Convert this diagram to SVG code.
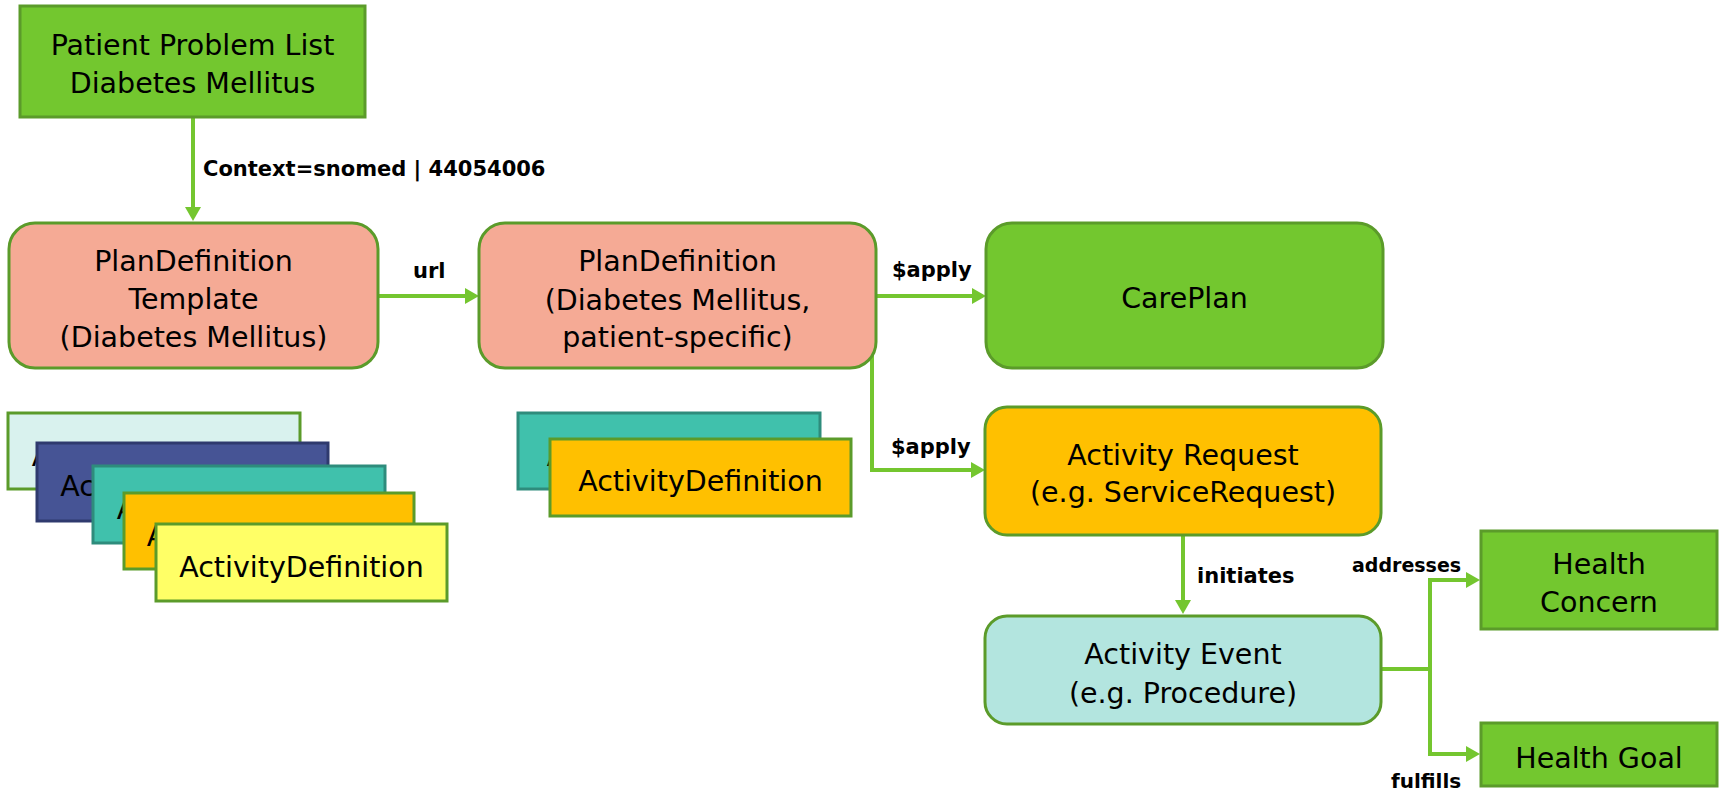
<svg xmlns="http://www.w3.org/2000/svg" width="1721" height="792" viewBox="0 0 1721 792">
<defs>
<marker id="ah" viewBox="0 0 14 16" refX="4" refY="8" markerWidth="14" markerHeight="16" markerUnits="userSpaceOnUse" orient="auto">
<path d="M0,0 L14,8 L0,16 Z" fill="#74C62F"/>
</marker>
</defs>
<style>
.t{font-family:"DejaVu Sans","Liberation Sans",sans-serif;font-size:28.5px;fill:#000;text-anchor:middle}
.l{font-family:"DejaVu Sans","Liberation Sans",sans-serif;font-size:21px;font-weight:bold;fill:#000}
.c{fill:none;stroke:#74C62F;stroke-width:4}
.g{fill:#73C72F;stroke:#5B9B2A;stroke-width:3}
.s{fill:#F5AA95;stroke:#5B9B2A;stroke-width:3}
</style>
<g id="connectors">
<path class="c" d="M193,117 V211" marker-end="url(#ah)"/>
<path class="c" d="M378,296 H469" marker-end="url(#ah)"/>
<path class="c" d="M876,296 H976" marker-end="url(#ah)"/>
<path class="c" d="M872,340 V470 H975" marker-end="url(#ah)"/>
<path class="c" d="M1183,535 V604" marker-end="url(#ah)"/>
<path class="c" d="M1381,669 H1430 V580 H1470" marker-end="url(#ah)"/>
<path class="c" d="M1430,669 V754 H1470" marker-end="url(#ah)"/>
</g>
<g id="labels">
<text class="l" x="203" y="176">Context=snomed | 44054006</text>
<text class="l" x="413" y="278">url</text>
<text class="l" x="892" y="277">$apply</text>
<text class="l" x="891" y="454">$apply</text>
<text class="l" x="1197" y="583">initiates</text>
<text class="l" x="1352" y="572" style="font-size:19px">addresses</text>
<text class="l" x="1391" y="788" style="font-size:20px">fulfills</text>
</g>
<g id="patient-problem-list">
<rect class="g" x="20" y="6" width="345" height="111"/>
<text class="t" x="192.5" y="55">Patient Problem List</text>
<text class="t" x="192.5" y="93">Diabetes Mellitus</text>
</g>
<g id="plandef-template">
<rect class="s" x="9" y="223" width="369" height="145" rx="26"/>
<text class="t" x="193.5" y="271">PlanDefinition</text>
<text class="t" x="193.5" y="309">Template</text>
<text class="t" x="193.5" y="347">(Diabetes Mellitus)</text>
</g>
<g id="plandef-patient">
<rect class="s" x="479" y="223" width="397" height="145" rx="26"/>
<text class="t" x="677.5" y="271">PlanDefinition</text>
<text class="t" x="677.5" y="310">(Diabetes Mellitus,</text>
<text class="t" x="677.5" y="347">patient-specific)</text>
</g>
<g id="careplan">
<rect class="g" x="986" y="223" width="397" height="145" rx="26"/>
<text class="t" x="1184.5" y="308">CarePlan</text>
</g>
<g id="activity-request">
<rect x="985" y="407" width="396" height="128" rx="22" fill="#FFC000" stroke="#5B9B2A" stroke-width="3"/>
<text class="t" x="1183" y="465">Activity Request</text>
<text class="t" x="1183" y="502">(e.g. ServiceRequest)</text>
</g>
<g id="activity-event">
<rect x="985" y="616" width="396" height="108" rx="22" fill="#B3E5DF" stroke="#5B9B2A" stroke-width="3"/>
<text class="t" x="1183" y="664">Activity Event</text>
<text class="t" x="1183" y="703">(e.g. Procedure)</text>
</g>
<g id="health-concern">
<rect class="g" x="1481" y="531" width="236" height="98"/>
<text class="t" x="1599" y="574">Health</text>
<text class="t" x="1599" y="612">Concern</text>
</g>
<g id="health-goal">
<rect class="g" x="1481" y="723" width="236" height="63"/>
<text class="t" x="1599" y="768">Health Goal</text>
</g>
<g id="actdef-stack-1">
<rect x="8" y="413" width="292" height="76" fill="#D9F2EE" stroke="#5B9B2A" stroke-width="3"/>
<text class="t" x="154" y="466">ActivityDefinition</text>
</g>
<g id="actdef-stack-2">
<rect x="37" y="443" width="291" height="78" fill="#465495" stroke="#2F3A6E" stroke-width="3"/>
<text class="t" x="182.5" y="496">ActivityDefinition</text>
</g>
<g id="actdef-stack-3">
<rect x="93" y="466" width="292" height="77" fill="#40C1AC" stroke="#2E8C7C" stroke-width="3"/>
<text class="t" x="239" y="519">ActivityDefinition</text>
</g>
<g id="actdef-stack-4">
<rect x="124" y="493" width="290" height="76" fill="#FFC000" stroke="#5B9B2A" stroke-width="3"/>
<text class="t" x="269" y="546">ActivityDefinition</text>
</g>
<g id="actdef-stack-5">
<rect x="156" y="524" width="291" height="77" fill="#FFFF66" stroke="#5B9B2A" stroke-width="3"/>
<text class="t" x="301.5" y="577">ActivityDefinition</text>
</g>
<g id="actdef-mid-1">
<rect x="518" y="413" width="302" height="76" fill="#40C1AC" stroke="#2E8C7C" stroke-width="3"/>
<text class="t" x="669" y="466">ActivityDefinition</text>
</g>
<g id="actdef-mid-2">
<rect x="550" y="439" width="301" height="77" fill="#FFC000" stroke="#5B9B2A" stroke-width="3"/>
<text class="t" x="700.5" y="491">ActivityDefinition</text>
</g>
</svg>
